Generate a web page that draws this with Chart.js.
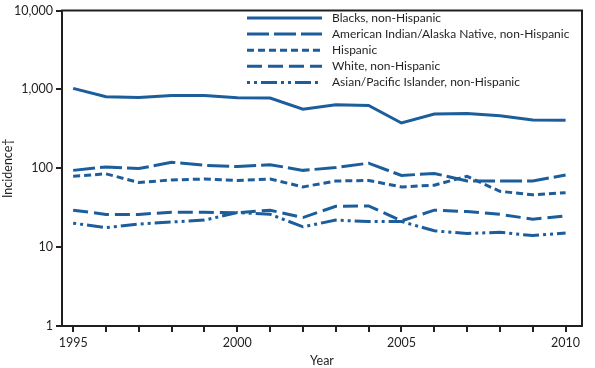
<!DOCTYPE html>
<html lang="en">
<head>
<meta charset="UTF-8">
<title>Incidence by race/ethnicity, 1995-2010</title>
<script src="https://cdn.jsdelivr.net/npm/chart.js"></script>
<style>
  html, body { margin: 0; padding: 0; background: #fff; }
  #wrap { width: 595px; height: 368px; position: relative; }
</style>
</head>
<body>
<div id="wrap"><canvas id="chart" width="595" height="368"></canvas></div>
<script>
// data
const years = [1995, 1996, 1997, 1998, 1999, 2000, 2001, 2002, 2003, 2004, 2005, 2006, 2007, 2008, 2009, 2010];
const seriesNames = [
  'Blacks, non-Hispanic',
  'American Indian/Alaska Native, non-Hispanic',
  'Hispanic',
  'White, non-Hispanic',
  'Asian/Pacific Islander, non-Hispanic'
];
const blacks   = [1030, 805, 790, 836, 836, 782, 775, 560, 640, 625, 375, 488, 496, 464, 410, 405];
const aian     = [94, 104, 99, 119, 109, 105, 111, 94, 102, 116, 81, 86, 69, 69, 69, 82];
const hispanic = [79, 85, 66, 71, 73, 70, 73, 58, 69, 70, 58, 61, 79, 51, 46, 49];
const white    = [29.4, 26, 26, 27.7, 27.7, 27.2, 29.4, 23.7, 33, 33.3, 21.5, 29.4, 28.2, 26.1, 22.6, 24.9];
const asian    = [20.1, 17.7, 19.6, 20.8, 22, 27.4, 26.1, 18.1, 22, 21.1, 21.1, 16.1, 14.9, 15.4, 14, 15.1];
const yTicks = [1, 10, 100, 1000, 10000];
const xLabelYears = [1995, 2000, 2005, 2010];

const BLUE = '#1c5d9c';
const INK = '#231f20';
const dashes = [[], [22, 5], [7, 4], [15, 6], [3, 4, 3, 4, 16, 4]];
const values = [blacks, aian, hispanic, white, asian];

const datasets = seriesNames.map((name, i) => ({
  label: name,
  data: years.map((y, j) => ({ x: y, y: values[i][j] })),
  borderColor: BLUE,
  borderWidth: 3,
  borderDash: dashes[i],
  pointRadius: 0,
  fill: false,
  tension: 0
}));

// frame around the plot + legend drawn in the top-right corner
const framePlugin = {
  id: 'frame',
  afterDraw(chart) {
    const { ctx, chartArea: a } = chart;
    ctx.save();
    ctx.strokeStyle = INK;
    ctx.lineWidth = 2;
    ctx.setLineDash([]);
    ctx.strokeRect(a.left, a.top, a.right - a.left, a.bottom - a.top);

    // legend
    const x0 = 247, x1 = 322, tx = 332;
    ctx.font = '12px Lato';
    ctx.textBaseline = 'middle';
    chart.data.datasets.forEach((ds, i) => {
      const y = 18 + i * 16.1;
      ctx.strokeStyle = BLUE;
      ctx.lineWidth = 3;
      ctx.setLineDash(ds.borderDash);
      ctx.beginPath();
      ctx.moveTo(x0, y);
      ctx.lineTo(x1, y);
      ctx.stroke();
      ctx.setLineDash([]);
      ctx.fillStyle = INK;
      ctx.fillText(ds.label, tx, y);
    });
    ctx.restore();
  }
};

new Chart(document.getElementById('chart'), {
  type: 'line',
  data: { datasets },
  options: {
    responsive: false,
    animation: false,
    layout: { padding: { top: 8, right: 13, left: 0, bottom: 0 } },
    plugins: { legend: { display: false }, tooltip: { enabled: false } },
    scales: {
      x: {
        type: 'linear',
        min: 1994.66,
        max: 2010.5,
        afterBuildTicks: s => { s.ticks = years.map(v => ({ value: v })); },
        afterFit: s => { s.height = 42; },
        grid: { drawOnChartArea: false, drawTicks: true, tickLength: 6, color: INK, lineWidth: 2 },
        border: { color: INK, width: 2 },
        ticks: {
          autoSkip: false,
          maxRotation: 0,
          padding: 3,
          color: INK,
          font: { family: 'Lato', size: 12.5 },
          callback: v => xLabelYears.includes(v) ? String(v) : ''
        },
        title: { display: true, text: 'Year', color: INK, font: { family: 'Lato', size: 12.5 }, padding: { top: 5, bottom: 0 } }
      },
      y: {
        type: 'logarithmic',
        min: 1,
        max: 10000,
        afterBuildTicks: s => { s.ticks = yTicks.map(v => ({ value: v })); },
        afterFit: s => { s.width = 62; },
        grid: { drawOnChartArea: false, drawTicks: true, tickLength: 6, color: INK, lineWidth: 2 },
        border: { color: INK, width: 2 },
        ticks: {
          padding: 3,
          color: INK,
          font: { family: 'Lato', size: 12.5 },
          callback: v => v.toLocaleString('en-US')
        },
        title: { display: true, text: 'Incidence†', color: INK, font: { family: 'Lato', size: 12.5 }, padding: { top: 0, bottom: 0 } }
      }
    }
  },
  plugins: [framePlugin]
});
</script>
</body>
</html>
